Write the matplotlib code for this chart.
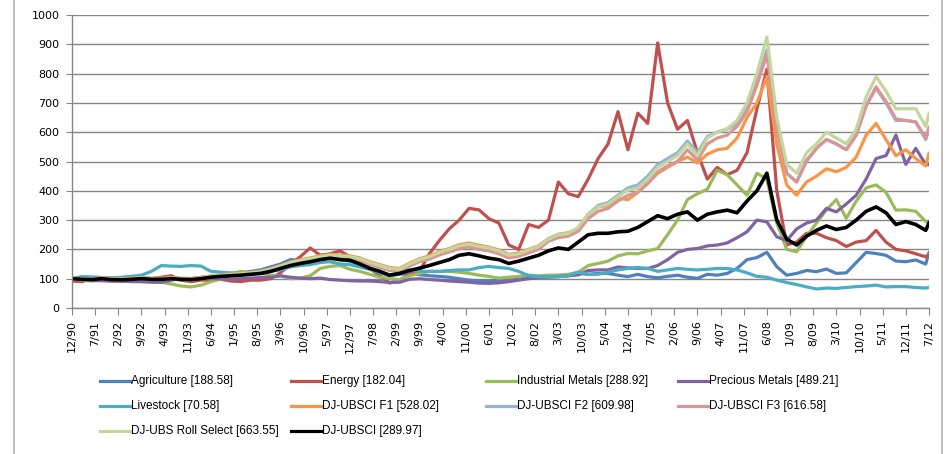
import numpy as np
import matplotlib
matplotlib.use("Agg")
import matplotlib.pyplot as plt
from matplotlib.lines import Line2D

# month index: 0 = Dec 1990, quarterly samples, last point = Jul 2012
months = list(range(0, 259, 3)) + [259]

agriculture = [
    100, 105, 103, 100, 98, 102, 100, 98, 95, 97, 100, 95,
    100, 105, 107, 108, 115, 120, 125, 130, 140, 150, 165, 162,
    160, 170, 175, 165, 160, 150, 135, 125, 110, 115, 118, 114,
    110, 108, 105, 100, 95, 92, 91, 95, 95, 98, 105, 107,
    105, 107, 110, 118, 115, 118, 118, 112, 107, 115, 107, 103,
    108, 112, 105, 101, 115, 112, 118, 135, 165, 172, 190, 141,
    112, 118, 128, 124, 133, 118, 120, 155, 190, 186, 180, 160,
    158, 164, 150, 188.58]

energy = [
    92, 90, 100, 98, 92, 95, 100, 105, 100, 105, 110, 95,
    90, 95, 95, 98, 92, 90, 95, 95, 100, 120, 150, 175,
    205, 180, 185, 195, 175, 160, 135, 110, 85, 95, 115, 125,
    185, 230, 270, 300, 340, 335, 305, 290, 215, 200, 285, 275,
    300, 430, 390, 380, 440, 510, 560, 670, 540, 665, 630, 905,
    700, 610, 640, 530, 440, 480, 455, 470, 530, 680, 815, 400,
    215, 225, 255, 255, 240, 230, 210, 225, 230, 265, 225, 200,
    195, 185, 175, 182.04]

industrial = [
    100, 95, 92, 95, 92, 90, 92, 90, 90, 88, 82, 75,
    72, 78, 90, 100, 115, 125, 120, 118, 112, 110, 100, 102,
    110, 135, 142, 145, 132, 125, 115, 105, 100, 97, 110, 118,
    125, 125, 125, 122, 118, 112, 108, 102, 105, 108, 112, 110,
    112, 112, 115, 122, 145, 152, 160, 178, 186, 185, 195, 203,
    250, 300, 370, 390, 405, 470, 455, 420, 385, 460, 440, 290,
    200, 192, 245, 290, 335, 370, 306, 365, 410, 420, 395, 334,
    335, 330, 295, 288.92]

precious = [
    100, 97, 95, 93, 92, 92, 90, 90, 88, 88, 95, 100,
    98, 102, 100, 100, 98, 100, 102, 104, 105, 110, 105, 102,
    100, 102, 97, 95, 93, 92, 92, 90, 87, 88, 98, 100,
    97, 95, 92, 90, 88, 85, 84, 86, 90, 95, 100, 103,
    107, 108, 110, 113, 128, 130, 130, 140, 137, 135, 135, 145,
    165, 190, 200, 203, 212, 215, 222, 240, 260, 300, 294, 243,
    230, 270, 290, 300, 340, 328, 355, 385, 440, 510, 520, 590,
    490, 545, 490, 489.21]

livestock = [
    100, 107, 106, 104, 103, 105, 108, 112, 125, 145, 143, 142,
    145, 143, 125, 122, 120, 120, 118, 120, 125, 130, 140, 145,
    148, 155, 158, 150, 148, 140, 132, 120, 110, 125, 130, 125,
    125, 125, 128, 130, 130, 138, 142, 138, 135, 125, 110, 107,
    107, 107, 110, 122, 115, 115, 122, 130, 135, 138, 135, 125,
    130, 135, 132, 130, 132, 135, 135, 130, 120, 108, 105, 95,
    87, 80, 72, 65, 68, 67, 70, 73, 75, 78, 72, 73,
    73, 70, 68, 70.58]

ubsci_f1 = [
    100, 100, 99, 103, 101, 100, 102, 104, 102, 102, 104, 102,
    101, 104, 110, 113, 116, 119, 122, 126, 134, 145, 157, 164,
    171, 178, 183, 181, 178, 171, 158, 148, 138, 135, 153, 168,
    178, 193, 203, 216, 222, 214, 208, 198, 183, 188, 200, 212,
    237, 252, 257, 272, 320, 345, 350, 375, 370, 395, 425, 460,
    480, 500, 515, 495, 525, 540, 545, 580, 650, 700, 790, 560,
    420, 385, 430, 450, 475, 465, 480, 515, 590, 630, 575, 520,
    540, 510, 485, 528.02]

ubsci_f2 = [
    100, 99, 98, 100, 98, 98, 100, 101, 100, 100, 101, 100,
    99, 101, 107, 110, 113, 117, 120, 123, 131, 142, 154, 161,
    167, 174, 179, 177, 174, 167, 154, 144, 134, 131, 149, 164,
    174, 189, 199, 211, 217, 209, 204, 194, 179, 184, 197, 209,
    235, 250, 255, 270, 320, 350, 360, 385, 410, 420, 450, 490,
    510, 530, 570, 530, 585, 600, 610, 630, 680, 770, 880, 620,
    460, 430, 500, 545, 575, 560, 540, 590, 690, 750, 700, 640,
    640, 635, 575, 609.98]

ubsci_f3 = [
    100, 98, 97, 100, 97, 96, 98, 100, 98, 98, 99, 97,
    96, 99, 104, 107, 110, 113, 116, 119, 127, 137, 149, 156,
    162, 169, 173, 171, 168, 161, 148, 138, 128, 125, 143, 158,
    167, 181, 191, 202, 208, 200, 195, 185, 171, 176, 188, 200,
    228, 240, 245, 262, 305, 330, 340, 365, 385, 395, 425, 465,
    485, 500, 540, 505, 560, 580, 590, 620, 670, 760, 865, 615,
    460, 430, 505, 545, 575, 560, 540, 590, 690, 755, 705, 645,
    640, 635, 580, 616.58]

roll_select = [
    100, 99, 98, 101, 99, 98, 100, 102, 100, 100, 102, 100,
    99, 102, 108, 111, 114, 117, 120, 124, 132, 143, 155, 162,
    168, 175, 180, 178, 175, 168, 155, 145, 135, 132, 150, 165,
    175, 190, 200, 212, 218, 210, 205, 195, 180, 185, 198, 210,
    235, 250, 255, 275, 320, 345, 355, 380, 402, 410, 440, 480,
    500, 520, 560, 520, 580, 600, 612, 640, 700, 800, 925, 650,
    490, 460, 530, 560, 600, 580, 560, 610, 720, 790, 740, 680,
    680, 680, 620, 663.55]

ubsci = [
    100, 98, 97, 100, 97, 96, 98, 100, 98, 98, 100, 98,
    97, 100, 105, 108, 110, 112, 115, 118, 125, 135, 145, 152,
    158, 165, 170, 165, 163, 150, 135, 125, 112, 118, 128, 136,
    145, 155, 165, 180, 185, 178, 170, 165, 152, 160, 170, 180,
    195, 205, 200, 225, 250, 255, 255, 260, 262, 275, 295, 315,
    305, 320, 328, 300, 320, 328, 334, 325, 365, 400, 460, 300,
    235, 215, 245, 265, 280, 268, 275, 300, 330, 345, 325, 285,
    295, 285, 265, 289.97]

names = ["Agriculture [188.58]", "Energy [182.04]", "Industrial Metals [288.92]",
         "Precious Metals [489.21]", "Livestock [70.58]", "DJ-UBSCI F1 [528.02]",
         "DJ-UBSCI F2 [609.98]", "DJ-UBSCI F3 [616.58]",
         "DJ-UBS Roll Select [663.55]", "DJ-UBSCI [289.97]"]
series = [agriculture, energy, industrial, precious, livestock,
          ubsci_f1, ubsci_f2, ubsci_f3, roll_select, ubsci]
colors = ["#4F81BD", "#C0504D", "#9BBB59", "#8064A2", "#4BACC6",
          "#F79646", "#95B3D7", "#D99694", "#C3D69B", "#000000"]

W, H = 948, 454
fig = plt.figure(figsize=(W / 100, H / 100), dpi=100)
ax = fig.add_axes([72 / W, 1 - 308 / H, (929 - 72) / W, (308 - 15) / H])

for vals, col in zip(series, colors):
    lw = 2.6 if col == "#000000" else 2.3
    ax.plot(months, vals, color=col, lw=lw, solid_joinstyle="round")

ax.set_xlim(0, 259)
ax.set_ylim(0, 1000)
ax.set_yticks(np.arange(0, 1001, 100))
ticks = list(range(0, 260, 7))
labels = []
for t in ticks:
    mo = (11 + t) % 12 + 1
    yr = (1990 + (11 + t) // 12) % 100
    labels.append(f"{mo}/{yr:02d}")
ax.set_xticks(ticks)
ax.set_xticklabels(labels, rotation=90, fontsize=8)
ax.tick_params(axis="y", labelsize=8, length=4, color="#868686", pad=5)
ax.tick_params(axis="x", length=5, color="#868686", pad=4)
ax.grid(axis="y", color="#868686", lw=1)
ax.set_axisbelow(True)
for s in ["top", "right"]:
    ax.spines[s].set_visible(False)
for s in ["left", "bottom"]:
    ax.spines[s].set_color("#868686")
    ax.spines[s].set_linewidth(1)

# legend, laid out row-wise like the original
col_x = [100, 291, 486, 678]
row_y = [381, 406, 431]
for i, (lab, col) in enumerate(zip(names, colors)):
    r, c = divmod(i, 4)
    x0, y0 = col_x[c], row_y[r]
    fig.add_artist(Line2D([x0 / W, (x0 + 30) / W], [1 - y0 / H, 1 - y0 / H],
                          color=col, lw=2.3, transform=fig.transFigure))
    fig.text((x0 + 31) / W, 1 - y0 / H, lab, fontsize=8.5, family="Liberation Sans",
             va="center", ha="left")

# chart frame edges
for xb in [14, 942]:
    fig.add_artist(Line2D([xb / W, xb / W], [0, 1], color="#BFBFBF", lw=1.5,
                          transform=fig.transFigure))

fig.savefig("out.png", dpi=100)
